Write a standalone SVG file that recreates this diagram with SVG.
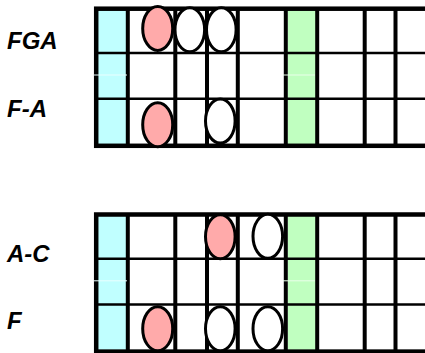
<svg xmlns="http://www.w3.org/2000/svg" width="425" height="353" viewBox="0 0 425 353">
<style>
.lbl{font-family:"Liberation Sans",Arial,sans-serif;font-size:24px;font-weight:bold;font-style:italic;fill:#000}
.frame{fill:none;stroke:#000;stroke-width:4.5}
.fret{stroke:#000;stroke-width:4}
.str{stroke:#000;stroke-width:2.5}
.cy{fill:#c0ffff}
.gr{fill:#c0ffc0}
.pk{fill:#ffaaaa;stroke:#000;stroke-width:3}
.wh{fill:#fff;stroke:#000;stroke-width:3}
.tl{stroke:#eaffff;stroke-width:1}
.tg{stroke:#eaffea;stroke-width:1}
</style>
<defs>
<g id="board">
<rect class="cy" x="98" y="10" width="28" height="134"/>
<rect class="gr" x="288" y="10" width="28" height="134"/>
<line class="str" x1="96" y1="53" x2="430" y2="53"/>
<line class="str" x1="96" y1="98.8" x2="430" y2="98.8"/>
<line class="fret" x1="127.8" y1="8" x2="127.8" y2="146"/>
<line class="fret" x1="175.3" y1="8" x2="175.3" y2="146"/>
<line class="fret" x1="207" y1="8" x2="207" y2="146"/>
<line class="fret" x1="237.8" y1="8" x2="237.8" y2="146"/>
<line class="fret" x1="285.8" y1="8" x2="285.8" y2="146"/>
<line class="fret" x1="317.2" y1="8" x2="317.2" y2="146"/>
<line class="fret" x1="364.7" y1="8" x2="364.7" y2="146"/>
<line class="fret" x1="395.5" y1="8" x2="395.5" y2="146"/>
<rect class="frame" x="96.2" y="8.7" width="340" height="137.1"/>
<line class="tl" x1="94" y1="75" x2="127" y2="75"/>
<line class="tg" x1="283" y1="75" x2="315" y2="75"/>
</g>
</defs>
<g id="board-top">
<use href="#board"/>
</g>
<g id="board-bottom">
<use href="#board" transform="translate(0,205.8)"/>
</g>
<g id="labels">
<text class="lbl" x="7" y="49.3">FGA</text>
<text class="lbl" x="7" y="116.5">F-A</text>
<text class="lbl" x="7" y="262">A-C</text>
<text class="lbl" x="7" y="329">F</text>
</g>
<g id="notes-top">
<ellipse class="wh" cx="221.3" cy="29.7" rx="14.8" ry="22"/>
<ellipse class="wh" cx="189.8" cy="29.7" rx="14.8" ry="22"/>
<ellipse class="pk" cx="157.7" cy="28.4" rx="15" ry="22"/>
<ellipse class="pk" cx="157.7" cy="124.7" rx="15" ry="22"/>
<ellipse class="wh" cx="220.3" cy="121" rx="14.8" ry="22"/>
</g>
<g id="notes-bottom">
<ellipse class="pk" cx="220.3" cy="236.7" rx="14.8" ry="22"/>
<ellipse class="wh" cx="267.8" cy="236.3" rx="14.8" ry="22"/>
<ellipse class="pk" cx="157.7" cy="328.7" rx="15" ry="22"/>
<ellipse class="wh" cx="220.3" cy="328.7" rx="14.8" ry="22"/>
<ellipse class="wh" cx="267.8" cy="328.7" rx="14.8" ry="22"/>
</g>
<g id="connectors"></g>
</svg>
